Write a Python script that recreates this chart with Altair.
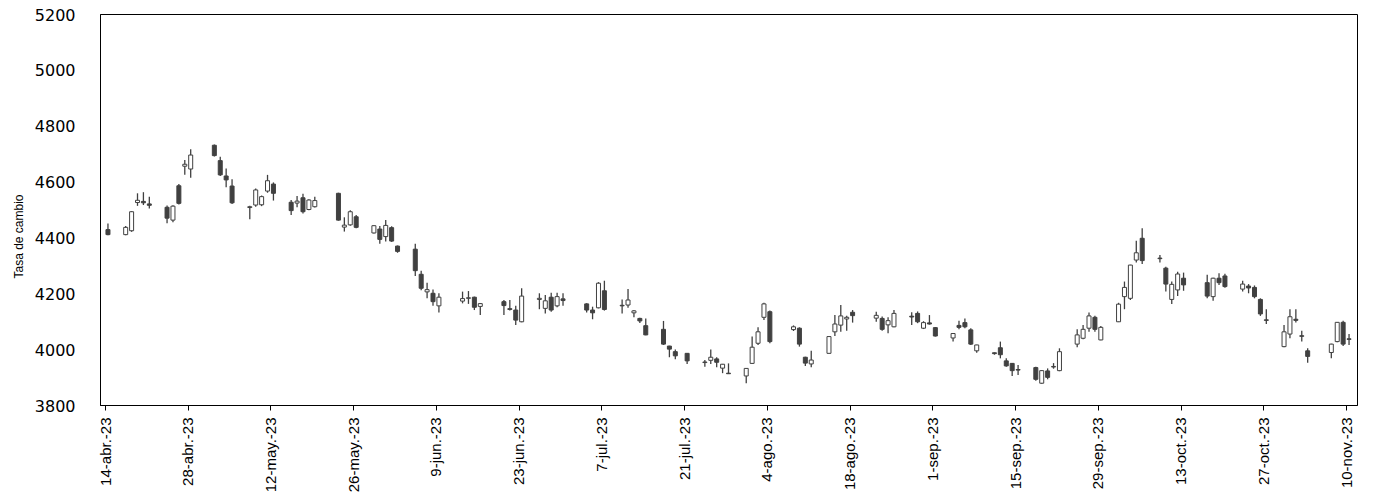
import altair as alt
import pandas as pd

dates = [
    "2023-04-14", "2023-04-17", "2023-04-18", "2023-04-19", "2023-04-20", "2023-04-21",
    "2023-04-24", "2023-04-25", "2023-04-26", "2023-04-27", "2023-04-28",
    "2023-05-02", "2023-05-03", "2023-05-04", "2023-05-05",
    "2023-05-08", "2023-05-09", "2023-05-10", "2023-05-11", "2023-05-12",
    "2023-05-15", "2023-05-16", "2023-05-17", "2023-05-18", "2023-05-19",
    "2023-05-23", "2023-05-24", "2023-05-25", "2023-05-26",
    "2023-05-29", "2023-05-30", "2023-05-31", "2023-06-01", "2023-06-02",
    "2023-06-05", "2023-06-06", "2023-06-07", "2023-06-08", "2023-06-09",
    "2023-06-13", "2023-06-14", "2023-06-15", "2023-06-16",
    "2023-06-20", "2023-06-21", "2023-06-22", "2023-06-23",
    "2023-06-26", "2023-06-27", "2023-06-28", "2023-06-29", "2023-06-30",
    "2023-07-04", "2023-07-05", "2023-07-06", "2023-07-07",
    "2023-07-10", "2023-07-11", "2023-07-12", "2023-07-13", "2023-07-14",
    "2023-07-17", "2023-07-18", "2023-07-19", "2023-07-21",
    "2023-07-24", "2023-07-25", "2023-07-26", "2023-07-27", "2023-07-28",
    "2023-07-31", "2023-08-01", "2023-08-02", "2023-08-03", "2023-08-04",
    "2023-08-08", "2023-08-09", "2023-08-10", "2023-08-11",
    "2023-08-14", "2023-08-15", "2023-08-16", "2023-08-17", "2023-08-18",
    "2023-08-22", "2023-08-23", "2023-08-24", "2023-08-25",
    "2023-08-28", "2023-08-29", "2023-08-30", "2023-08-31", "2023-09-01",
    "2023-09-04", "2023-09-05", "2023-09-06", "2023-09-07", "2023-09-08",
    "2023-09-11", "2023-09-12", "2023-09-13", "2023-09-14", "2023-09-15",
    "2023-09-18", "2023-09-19", "2023-09-20", "2023-09-21", "2023-09-22",
    "2023-09-25", "2023-09-26", "2023-09-27", "2023-09-28", "2023-09-29",
    "2023-10-02", "2023-10-03", "2023-10-04", "2023-10-05", "2023-10-06",
    "2023-10-09", "2023-10-10", "2023-10-11", "2023-10-12", "2023-10-13",
    "2023-10-17", "2023-10-18", "2023-10-19", "2023-10-20",
    "2023-10-23", "2023-10-24", "2023-10-25", "2023-10-26", "2023-10-27",
    "2023-10-30", "2023-10-31", "2023-11-01", "2023-11-02", "2023-11-03",
    "2023-11-07", "2023-11-08", "2023-11-09", "2023-11-10",
]

open_ = [
    4428, 4410, 4424, 4525, 4529, 4520,
    4508, 4462, 4585, 4655, 4645,
    4730, 4675, 4620, 4584,
    4507, 4516, 4517, 4566, 4591,
    4526, 4523, 4542, 4500, 4510,
    4558, 4437, 4445, 4474,
    4416, 4430, 4403, 4435, 4369,
    4358, 4268, 4205, 4200, 4155,
    4172, 4182, 4186, 4153,
    4170, 4145, 4140, 4098,
    4178, 4146, 4186, 4155, 4180,
    4162, 4140, 4148, 4209,
    4157, 4158, 4130, 4110, 4084,
    4071, 4011, 3991, 3985,
    3952, 3960, 3965, 3932, 3914,
    3904, 3949, 4021, 4114, 4134,
    4070, 4075, 3971, 3947,
    3985, 4062, 4086, 4108, 4132,
    4111, 4110, 4087, 4080,
    4118, 4128, 4075, 4094, 4077,
    4040, 4085, 4095, 4069, 3994,
    3987, 4005, 3958, 3949, 3927,
    3934, 3878, 3922, 3936, 3923,
    4018, 4039, 4075, 4114, 4033,
    4098, 4188, 4182, 4319, 4397,
    4326, 4290, 4178, 4212, 4254,
    4238, 4188, 4254, 4262,
    4215, 4226, 4221, 4178, 4105,
    4009, 4054, 4107, 4048, 3994,
    3988, 4027, 4096, 4037,
]

high = [
    4450, 4441, 4494, 4558, 4562, 4546,
    4514, 4515, 4591, 4677, 4716,
    4733, 4689, 4647, 4608,
    4513, 4575, 4550, 4624, 4597,
    4534, 4548, 4556, 4537, 4546,
    4560, 4472, 4497, 4480,
    4444, 4441, 4462, 4440, 4371,
    4377, 4281, 4238, 4214, 4200,
    4206, 4208, 4188, 4165,
    4176, 4176, 4155, 4218,
    4200, 4194, 4202, 4202, 4200,
    4164, 4152, 4240, 4245,
    4178, 4215, 4140, 4112, 4110,
    4101, 4012, 3999, 3986,
    3961, 3999, 3971, 3947, 3949,
    3932, 4045, 4078, 4166, 4138,
    4085, 4078, 3973, 3994,
    4046, 4122, 4158, 4120, 4140,
    4134, 4117, 4114, 4140,
    4132, 4135, 4100, 4122, 4079,
    4058, 4102, 4110, 4075, 4016,
    3988, 4027, 3967, 3950, 3943,
    3937, 3925, 3931, 3950, 4003,
    4071, 4086, 4131, 4120, 4083,
    4166, 4242, 4302, 4388, 4433,
    4337, 4295, 4242, 4277, 4274,
    4266, 4256, 4272, 4270,
    4245, 4233, 4228, 4182, 4143,
    4086, 4143, 4143, 4066, 4003,
    4019, 4097, 4102, 4054,
]

low = [
    4408, 4408, 4420, 4513, 4516, 4504,
    4451, 4454, 4518, 4624, 4614,
    4690, 4620, 4580, 4520,
    4465, 4510, 4512, 4560, 4532,
    4480, 4508, 4486, 4497, 4507,
    4460, 4421, 4442, 4433,
    4414, 4377, 4385, 4384, 4345,
    4262, 4211, 4182, 4155, 4131,
    4164, 4162, 4140, 4122,
    4122, 4138, 4086, 4096,
    4143, 4128, 4134, 4150, 4155,
    4131, 4107, 4146, 4138,
    4128, 4148, 4114, 4094, 4050,
    4015, 3971, 3964, 3947,
    3937, 3947, 3935, 3914, 3911,
    3878, 3947, 4015, 4104, 4021,
    4065, 4009, 3940, 3935,
    3984, 4047, 4062, 4066, 4095,
    4098, 4066, 4057, 4078,
    4086, 4093, 4072, 4088, 4045,
    4027, 4071, 4075, 4015, 3987,
    3980, 3967, 3937, 3904, 3907,
    3887, 3876, 3892, 3930, 3921,
    4007, 4035, 4062, 4062, 4032,
    4097, 4143, 4176, 4310, 4305,
    4310, 4206, 4162, 4190, 4209,
    4182, 4173, 4230, 4220,
    4206, 4200, 4182, 4119, 4090,
    4007, 4039, 4095, 4027, 3951,
    3967, 4025, 4011, 4015,
]

close = [
    4410, 4436, 4492, 4533, 4524, 4515,
    4469, 4512, 4522, 4662, 4695,
    4693, 4624, 4606, 4524,
    4510, 4570, 4546, 4603, 4558,
    4496, 4530, 4492, 4534, 4532,
    4462, 4444, 4492, 4436,
    4442, 4393, 4443, 4387, 4350,
    4281, 4218, 4213, 4170, 4186,
    4181, 4184, 4150, 4163,
    4156, 4142, 4104, 4190,
    4182, 4173, 4140, 4188, 4174,
    4140, 4130, 4236, 4142,
    4155, 4176, 4137, 4101, 4051,
    4018, 4000, 3976, 3958,
    3954, 3971, 3953, 3946, 3912,
    3931, 4007, 4062, 4162, 4027,
    4080, 4018, 3950, 3961,
    4045, 4090, 4119, 4114, 4120,
    4121, 4071, 4102, 4128,
    4115, 4098, 4095, 4090, 4047,
    4056, 4078, 4080, 4018, 4015,
    3984, 3980, 3940, 3923, 3925,
    3892, 3923, 3899, 3938, 3991,
    4051, 4071, 4119, 4071, 4078,
    4161, 4221, 4301, 4345, 4317,
    4324, 4233, 4232, 4269, 4230,
    4190, 4254, 4238, 4224,
    4233, 4219, 4188, 4126, 4103,
    4062, 4116, 4103, 4046, 3974,
    4018, 4096, 4018, 4035,
]

y_ticks = [3800, 4000, 4200, 4400, 4600, 4800, 5000, 5200]

tick_dates = pd.date_range("2023-04-14", "2023-11-10", freq="14D", tz="UTC")
tick_values = [int(t.value // 10**6) for t in tick_dates]
domain_start = int(pd.Timestamp("2023-04-14", tz="UTC").value // 10**6)
domain_end = int(pd.Timestamp("2023-11-11", tz="UTC").value // 10**6)

df = pd.DataFrame({"date": dates, "open": open_, "high": high, "low": low, "close": close})

DARK = "#404040"
SANS = "Liberation Sans, Arial, sans-serif"

label_expr = (
    "utcdate(datum.value) + '-' + "
    "['ene.','feb.','mar.','abr.','may.','jun.','jul.','ago.','sep.','oct.','nov.','dic.'][utcmonth(datum.value)]"
    " + '-' + utcFormat(datum.value, '%y')"
)

x = alt.X(
    "mid:T",
    scale=alt.Scale(type="utc", domain=[domain_start, domain_end], nice=False),
    axis=alt.Axis(
        values=tick_values,
        labelExpr=label_expr,
        labelAngle=-90,
        labelAlign="right",
        labelBaseline="middle",
        labelFont=SANS,
        labelFontSize=15,
        labelColor="black",
        labelPadding=7,
        tickSize=5,
        tickColor="black",
        domainColor="black",
        grid=False,
        title=None,
        labelOverlap=False,
    ),
)

y_axis = alt.Axis(
    values=y_ticks,
    format="d",
    labelFont="DejaVu Sans",
    labelFontSize=16,
    labelOffset=1,
    labelColor="black",
    labelPadding=25,
    ticks=False,
    grid=False,
    domainColor="black",
    title="Tasa de cambio",
    titleFont=SANS,
    titleFontSize=12,
    titleFontWeight="normal",
    titleColor="black",
    titleX=-82,
    titleY=222,
    titleAngle=270,
    titleAlign="center",
    titleBaseline="middle",
)

base = alt.Chart(df).transform_calculate(
    mid="time(utcParse(datum.date, '%Y-%m-%d')) + 43200000",
    up="datum.close >= datum.open",
)

wicks = base.mark_rule(color=DARK, strokeWidth=1.3).encode(
    x=x,
    y=alt.Y("low:Q", scale=alt.Scale(domain=[3800, 5200], nice=False, zero=False), axis=y_axis),
    y2="high:Q",
)

bodies = base.mark_bar(size=4, stroke=DARK, strokeWidth=1).encode(
    x=x,
    y=alt.Y("open:Q"),
    y2="close:Q",
    fill=alt.condition("datum.up", alt.value("white"), alt.value(DARK)),
)

chart = (
    alt.layer(wicks, bodies)
    .properties(
        width=1257,
        height=391,
        autosize=alt.AutoSizeParams(type="none"),
        padding={"left": 92, "top": 6, "right": 12, "bottom": 92},
        background="white",
    )
    .configure_view(stroke="black", strokeWidth=1)
)

chart.save("out.html", embed_options={"renderer": "svg", "actions": False})
